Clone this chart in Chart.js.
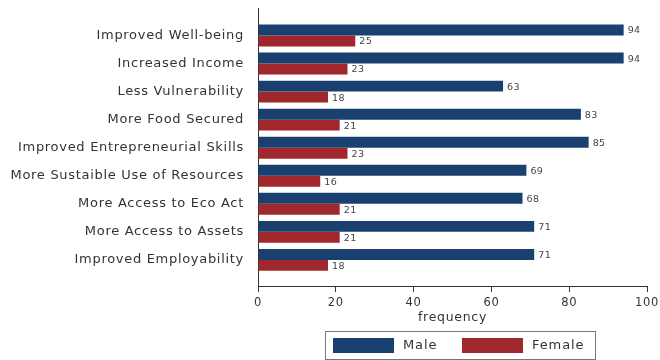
<!DOCTYPE html>
<html><head><meta charset="utf-8">
<script src="https://cdn.jsdelivr.net/npm/chart.js@4/dist/chart.umd.min.js"></script>
<style>html,body{margin:0;padding:0;background:#fff}#wrap{width:660px;height:360px;position:relative}</style>
</head><body><div id="wrap"><canvas id="c"></canvas></div>
<script>
const categories = ['Improved Well-being','Increased Income','Less Vulnerability','More Food Secured','Improved Entrepreneurial Skills','More Sustaible Use of Resources','More Access to Eco Act','More Access to Assets','Improved Employability'];
const maleValues = [94,94,63,83,85,69,68,71,71];
const femaleValues = [25,23,18,21,23,16,21,21,18];
const xTicks = [0,20,40,60,80,100];
const seriesNames = ['Male','Female'];
const seriesColors = ['#1a406f','#a0282d'];
const xTitle = 'frequency';

const FONT = 'DejaVu Sans';

const spacing = {
  id: 'spacing',
  beforeDraw(chart) { chart.ctx.letterSpacing = '0.7px'; }
};

const valueLabels = {
  id: 'valueLabels',
  afterDatasetsDraw(chart) {
    const ctx = chart.ctx;
    ctx.save();
    ctx.letterSpacing = '0.4px';
    ctx.font = '9.5px "' + FONT + '"';
    ctx.fillStyle = '#444';
    ctx.textBaseline = 'middle';
    ctx.textAlign = 'left';
    chart.data.datasets.forEach((ds, di) => {
      const meta = chart.getDatasetMeta(di);
      meta.data.forEach((el, i) => {
        ctx.fillText(String(ds.data[i].x), el.x + 4, el.y + 1);
      });
    });
    ctx.restore();
  }
};

const boxLegend = {
  id: 'boxLegend',
  afterDraw(chart) {
    const ctx = chart.ctx;
    ctx.save();
    ctx.letterSpacing = '0.9px';
    ctx.strokeStyle = '#777';
    ctx.lineWidth = 1;
    ctx.strokeRect(325.5, 331.5, 270, 28);
    const sw = [333, 462];
    const tx = [403, 532];
    chart.data.datasets.forEach((ds, i) => {
      ctx.fillStyle = ds.backgroundColor;
      ctx.fillRect(sw[i], 338, 61, 15);
      ctx.fillStyle = '#333';
      ctx.font = '13px "' + FONT + '"';
      ctx.textBaseline = 'middle';
      ctx.textAlign = 'left';
      ctx.fillText(ds.label, tx[i], 346);
    });
    ctx.restore();
  }
};

new Chart(document.getElementById('c'), {
  type: 'bar',
  data: {
    datasets: [
      { label: seriesNames[0], data: maleValues.map((v, i) => ({ x: v, y: i })), backgroundColor: seriesColors[0] },
      { label: seriesNames[1], data: femaleValues.map((v, i) => ({ x: v, y: i })), backgroundColor: seriesColors[1] }
    ]
  },
  options: {
    indexAxis: 'y',
    responsive: true,
    maintainAspectRatio: false,
    animation: false,
    categoryPercentage: 0.78,
    barPercentage: 1.0,
    layout: { padding: { left: 0, right: 13, top: 8, bottom: 32 } },
    plugins: { legend: { display: false }, tooltip: { enabled: false } },
    scales: {
      y: {
        type: 'linear',
        reverse: true,
        offset: false,
        bounds: 'data',
        min: -0.98,
        max: 8.93,
        afterBuildTicks: s => { s.ticks = categories.map((c, i) => ({ value: i })); },
        afterFit: s => { s.width = 258; s.paddingTop = 0; s.paddingBottom = 0; },
        grid: { display: false, offset: false },
        border: { display: true, color: '#333', width: 1 },
        ticks: {
          autoSkip: false,
          padding: 6,
          color: '#333',
          font: { family: FONT, size: 13 },
          callback: v => categories[v]
        }
      },
      x: {
        type: 'linear',
        min: 0,
        max: 100,
        bounds: 'data',
        afterBuildTicks: s => { s.ticks = xTicks.map(v => ({ value: v })); },
        afterFit: s => { s.height = 42; s.paddingLeft = 0; s.paddingRight = 0; },
        grid: { display: true, drawOnChartArea: false, drawTicks: true, tickLength: 6, color: '#333' },
        border: { display: true, color: '#333', width: 1 },
        ticks: { padding: 4, color: '#333', font: { family: FONT, size: 11.5 } },
        title: { display: true, text: xTitle, color: '#333', font: { family: FONT, size: 12.5 }, padding: { top: 0, bottom: 3 } }
      }
    }
  },
  plugins: [spacing, valueLabels, boxLegend]
});
</script></body></html>
